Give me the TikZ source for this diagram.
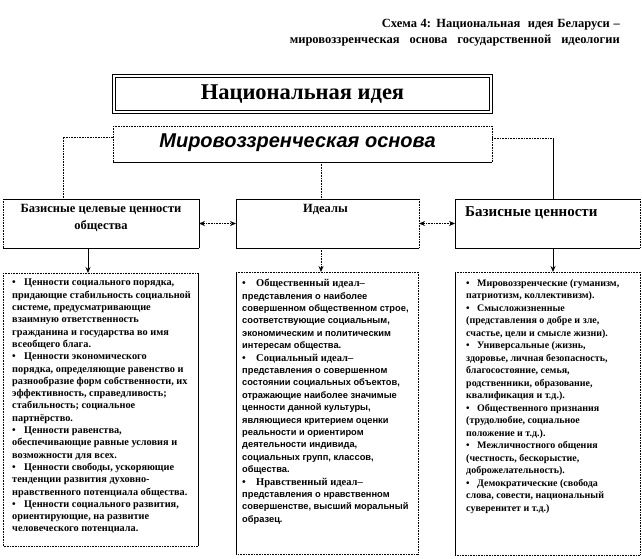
\documentclass[tikz,border=0pt]{standalone}
\usepackage{fontspec}
\setmainfont{Liberation Serif}
\setsansfont{Liberation Sans}
\newfontfamily\mirofont{Liberation Sans}
\usetikzlibrary{arrows.meta}
\newcommand\bulletmark[1]{\makebox[#1][l]{•}}
\newcommand\boxedges[5]{%
  \draw[#2] (#1.south west) -- (#1.north west);
  \draw[#3] (#1.north west) -- (#1.north east);
  \draw[#4] (#1.north east) -- (#1.south east);
  \draw[#5] (#1.south east) -- (#1.south west);}
\tikzset{
  soll/.style={line width=0.8pt},
  dotl/.style={line width=0.8pt, dash pattern=on 0.8pt off 0.8pt},
  box/.style={rectangle, inner sep=0pt, outer sep=0pt},
  tipd/.style={-{Stealth[length=6pt,width=5pt]}},
  tipb/.style={{Stealth[length=6pt,width=5pt]}-{Stealth[length=6pt,width=5pt]}},
  body/.style={inner sep=0pt, anchor=north west, align=left, font=\bfseries\fontsize{10.3}{12.3}\selectfont},
  head/.style={inner sep=0pt, font=\bfseries\fontsize{12.5}{17}\selectfont, align=center},
}
\begin{document}
\begin{tikzpicture}[x=1pt,y=-1pt]
\useasboundingbox[fill=white] (0,0) rectangle (642,558);

% title
\node[inner sep=0pt, anchor=base east, font=\bfseries\fontsize{12.5}{14}\selectfont] (t1) at (620,27)
  {\makebox[238pt][s]{Схема 4: Национальная \ идея Беларуси –}};
\node[inner sep=0pt, anchor=base east, font=\bfseries\fontsize{12.5}{14}\selectfont] (t2) at (620,43)
  {\makebox[330pt][s]{мировоззренческая \ основа \ государственной \ идеологии}};

% national idea
\node[box, draw, line width=1pt, double, double distance=2pt, minimum width=377pt, minimum height=36pt,
  font=\bfseries\fontsize{22.5}{24}\selectfont] (n) at (302.5,94) {Национальная идея};

% worldview basis
\node[box, minimum width=379pt, minimum height=36pt] (m) at (302.5,144) {};
\boxedges{m}{dotl}{dotl}{dotl}{soll}
\node[inner sep=0pt, font=\mirofont\bfseries\itshape\fontsize{20}{22}\selectfont] (mt) at (297.5,143) {Мировоззренческая основа};

% header boxes
\node[box, minimum width=196pt, minimum height=49pt] (h1) at (101,223.5) {};
\node[box, minimum width=183pt, minimum height=49pt] (h2) at (327.5,223.5) {};
\node[box, minimum width=185pt, minimum height=49pt] (h3) at (547.5,223.5) {};
\boxedges{h1}{dotl}{soll}{soll}{soll}
\boxedges{h2}{soll}{soll}{dotl}{soll}
\boxedges{h3}{soll}{soll}{dotl}{soll}
\node[head, anchor=north] (h1t) at (101,204) {Базисные целевые ценности\\общества};
\node[head, anchor=north] (h2t) at (325.5,204) {Идеалы};
\node[inner sep=0pt, anchor=west, font=\bfseries\fontsize{15}{18}\selectfont] (h3t) at (465,213) {Базисные ценности};

% bottom boxes
\node[box, minimum width=195pt, minimum height=273pt] (b1) at (100.5,409.5) {};
\node[box, minimum width=182pt, minimum height=282pt] (b2) at (327,413) {};
\node[box, minimum width=185pt, minimum height=283pt] (b3) at (547.5,413.5) {};
\boxedges{b1}{dotl}{dotl}{soll}{dotl}
\boxedges{b2}{soll}{dotl}{dotl}{dotl}
\boxedges{b3}{soll}{dotl}{dotl}{dotl}

% connectors
\coordinate (cl) at (63,0);
\coordinate (cm) at (321,0);
\coordinate (cr) at (553,138);
\coordinate (dl) at (88,0);
\draw[dotl] ([yshift=-11pt]m.north west) -| (h1.north -| cl);
\draw[dotl] ([yshift=-12pt]m.north east) -- (cr);
\draw[soll] (cr) -- (h3.north -| cr);
\draw[dotl] (m.south -| cm) -- (h2.north -| cm);
\draw[dotl, tipb] (h1.east) -- (h2.west);
\draw[dotl, tipb] (h2.east) -- (h3.west);
\draw[soll, tipd] (h1.south -| dl) -- (b1.north -| dl);
\draw[dotl, tipd] (h2.south -| cm) -- (b2.north -| cm);
\draw[soll, tipd] (h3.south -| cr) -- (b3.north -| cr);

% texts
\node[body] (b1t) at (12,279) {%
\bulletmark{12pt}Ценности социального порядка,\\
придающие стабильность социальной\\
системе, предусматривающие\\
взаимную ответственность\\
гражданина и государства во имя\\
всеобщего блага.\\
\bulletmark{12pt}Ценности экономического\\
порядка, определяющие равенство и\\
разнообразие форм собственности, их\\
эффективность, справедливость;\\
стабильность; социальное\\
партнёрство.\\
\bulletmark{12pt}Ценности равенства,\\
обеспечивающие равные условия и\\
возможности для всех.\\
\bulletmark{12pt}Ценности свободы, ускоряющие\\
тенденции развития духовно-\\
нравственного потенциала общества.\\
\bulletmark{12pt}Ценности социального развития,\\
ориентирующие, на развитие\\
человеческого потенциала.};

\node[body, font=\bfseries\sffamily\fontsize{9.3}{12.4}\selectfont] (b2t) at (242,279) {%
{\rmfamily\fontsize{10.5}{12.4}\selectfont\bulletmark{14pt}Общественный идеал–}\\
представления о наиболее\\
совершенном общественном строе,\\
соответствующие социальным,\\
экономическим и политическим\\
интересам общества.\\
{\rmfamily\fontsize{10.5}{12.4}\selectfont\bulletmark{14pt}Социальный идеал–}\\
представления о совершенном\\
состоянии социальных объектов,\\
отражающие наиболее значимые\\
ценности данной культуры,\\
являющиеся критерием оценки\\
реальности и ориентиром\\
деятельности индивида,\\
социальных групп, классов,\\
общества.\\
{\rmfamily\fontsize{10.5}{12.4}\selectfont\bulletmark{14pt}Нравственный идеал–}\\
представления о нравственном\\
совершенстве, высший моральный\\
образец.};

\node[body, font=\bfseries\fontsize{10}{12.5}\selectfont] (b3t) at (466,279) {%
\bulletmark{11pt}Мировоззренческие (гуманизм,\\
патриотизм, коллективизм).\\
\bulletmark{11pt}Смысложизненные\\
(представления о добре и зле,\\
счастье, цели и смысле жизни).\\
\bulletmark{11pt}Универсальные (жизнь,\\
здоровье, личная безопасность,\\
благосостояние, семья,\\
родственники, образование,\\
квалификация и т.д.).\\
\bulletmark{11pt}Общественного признания\\
(трудолюбие, социальное\\
положение и т.д.).\\
\bulletmark{11pt}Межличностного общения\\
(честность, бескорыстие,\\
доброжелательность).\\
\bulletmark{11pt}Демократические (свобода\\
слова, совести, национальный\\
суверенитет и т.д.)};
\end{tikzpicture}
\end{document}
